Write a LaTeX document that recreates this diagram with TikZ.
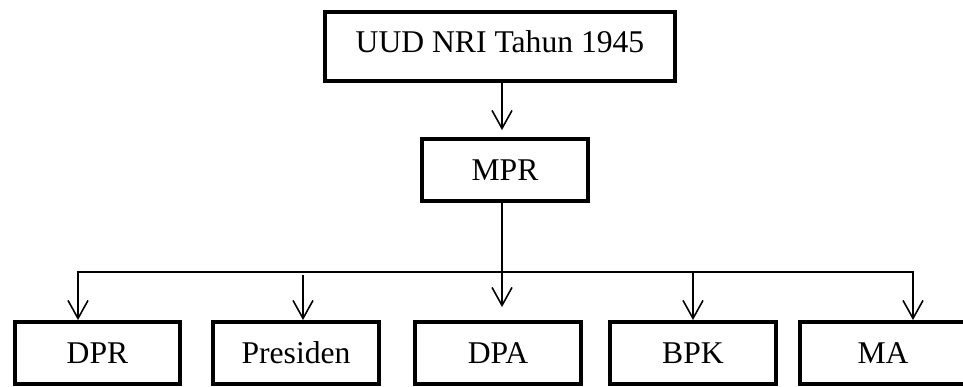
\documentclass[tikz,border=0pt]{standalone}
\usepackage{fontspec}
\setmainfont{Liberation Serif}
\usetikzlibrary{arrows.meta,positioning}

\begin{document}
\begin{tikzpicture}
  [>={Straight Barb[length=3.6mm,width=4mm]},on grid,
   box/.style={rectangle,draw=black,line width=2.5pt,minimum width=3.31cm,
     minimum height=1.23cm,font=\fontsize{18}{21}\selectfont},
   top box/.style={box,minimum width=6.99cm,minimum height=1.37cm,text depth=1.8mm},
   link/.style={draw=black,line width=0.9pt}]

  \useasboundingbox (0,0) rectangle (19.26,-7.74);

  % top of the chart
  \node [top box] (uud) at (10,-0.93)                    {UUD NRI Tahun 1945};
  \node [box] (mpr) [below=2.47cm of uud,xshift=1mm]     {MPR};

  % bottom row
  \node [box] (dpa)      [below=3.66cm of mpr,xshift=-1.4mm] {DPA};
  \node [box] (presiden) [left=4.04cm of dpa]                {Presiden};
  \node [box] (dpr)      [left=3.97cm of presiden]           {DPR};
  \node [box] (bpk)      [right=3.9cm of dpa]                {BPK};
  \node [box] (ma)       [right=3.8cm of bpk]                {MA};

  \coordinate (busl) at ([xshift=-3.9mm,yshift=9.6mm]dpr.north);
  \coordinate (busr) at ([xshift=6mm,yshift=9.6mm]ma.north);

  \draw [link,->,shorten >=1.4mm] ([xshift=0.4mm]uud.south) -- ([xshift=-0.6mm]mpr.north);
  \draw [link,->,shorten >=2.6mm] ([xshift=-0.6mm]mpr.south) -- ([xshift=0.8mm]dpa.north);
  \draw [link,<->] (busl |- dpr.north) -- (busl) -- (busr) -- (busr |- ma.north);
  \draw [link,->,shorten <=0.6mm] ([xshift=1.4mm]presiden.north |- busl) -- ([xshift=1.4mm]presiden.north);
  \draw [link,->] (bpk.north |- busl) -- (bpk.north);

\end{tikzpicture}
\end{document}
